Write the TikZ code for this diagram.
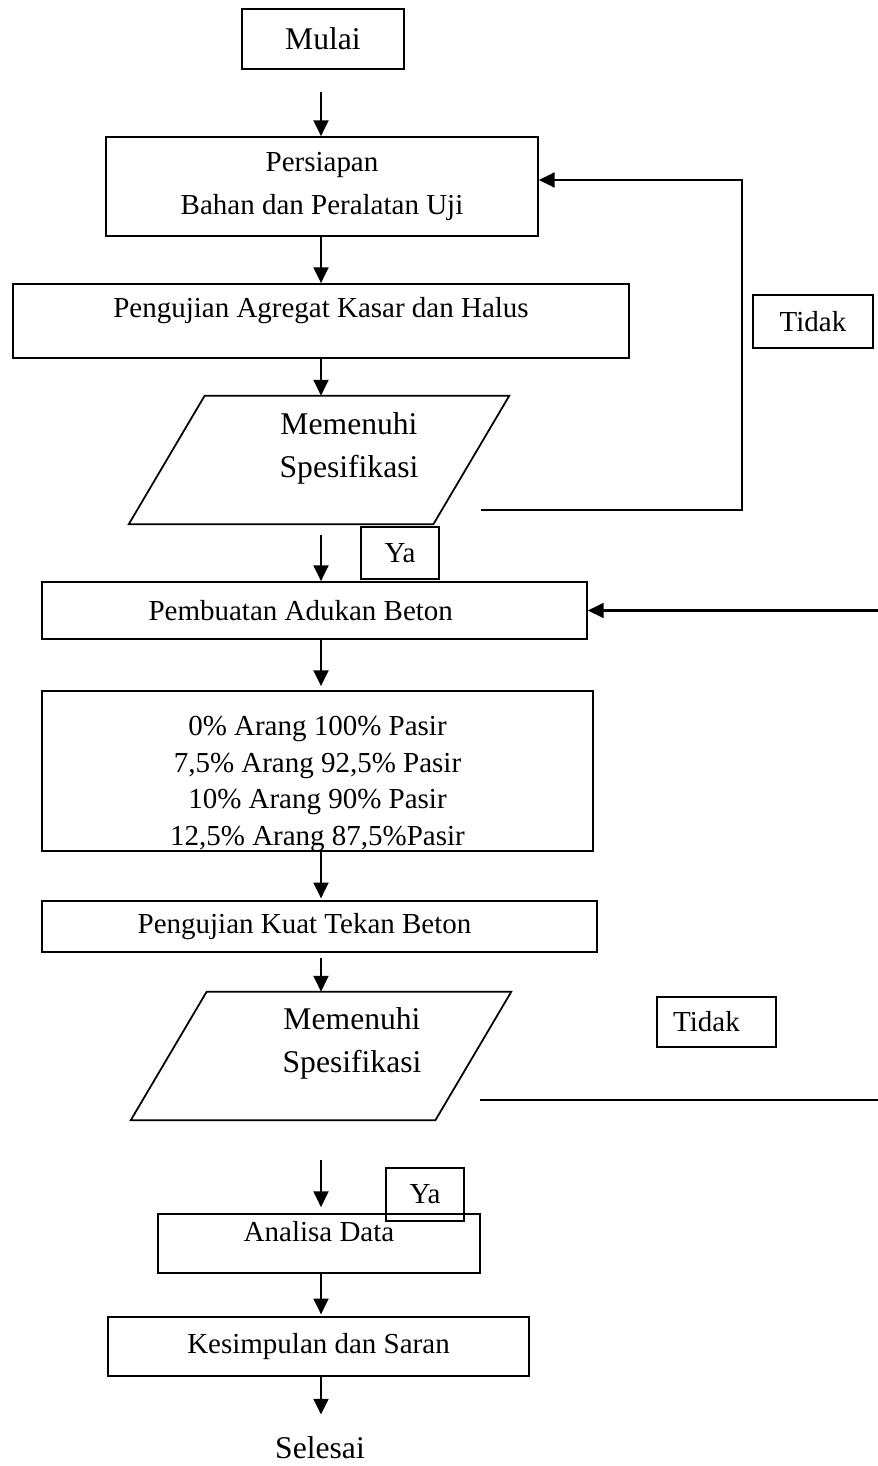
\documentclass[tikz,border=0pt]{standalone}
\usepackage{fontspec}
\setmainfont{Liberation Serif}
\usetikzlibrary{arrows.meta}

\begin{document}
\begin{tikzpicture}[x=0.02cm, y=-0.02cm,
    kotak/.style={draw, line width=1pt, inner sep=2pt, align=center, font=\fontsize{16.5}{20}\selectfont},
    jajar/.style={minimum width=6.08cm, minimum height=2.56cm, inner sep=0pt},
    teks/.style={align=center, inner sep=0pt, font=\fontsize{18}{24.5}\selectfont},
    panah/.style={line width=1.2pt, -{Triangle[length=9pt, width=8.5pt]}}]

    \useasboundingbox (0,0) rectangle (878,1466);
    \clip (0,0) rectangle (878,1466);

    \node (mulai) [kotak, minimum width=3.24cm, minimum height=1.2cm, font=\fontsize{18}{22}\selectfont] at (323,39) {Mulai};
    \node (persiapan) [kotak, minimum width=8.64cm, minimum height=1.98cm] at (322,186.5) {Persiapan\\[4.5pt]Bahan dan Peralatan Uji};
    \node (agregat) [kotak, minimum width=12.32cm, minimum height=1.48cm] at (321,321) {Pengujian Agregat Kasar dan Halus\\[-10pt]\strut};
    \node (tidaka) [kotak, minimum width=2.4cm, minimum height=1.06cm] at (813,321.5) {Tidak};
    \node (cek1) [jajar] at (319,460) {};
    \node (cek1teks) [teks] at (349,448.5) {Memenuhi\\Spesifikasi};
    \node (ya1) [kotak, minimum width=1.56cm, minimum height=1.04cm] at (400,553) {Ya};
    \node (pembuatan) [kotak, minimum width=10.9cm, minimum height=1.14cm] at (314.5,610.5) {Pembuatan Adukan Beton\hspace*{0.55cm}};
    \node (campuran) [kotak, minimum width=11.02cm, minimum height=3.2cm] at (317.5,771) {};
    \node (campuranteks) [teks, font=\fontsize{16.5}{21}\selectfont] at (317.5,784) {0\% Arang 100\% Pasir\\7,5\% Arang 92,5\% Pasir\\10\% Arang 90\% Pasir\\12,5\% Arang 87,5\%Pasir};
    \node (kuat) [kotak, minimum width=11.1cm, minimum height=1.02cm] at (319.5,926.5) {Pengujian Kuat Tekan Beton\hspace*{0.6cm}};
    \node (cek2) [jajar] at (321,1056) {};
    \node (cek2teks) [teks] at (352,1043.5) {Memenuhi\\Spesifikasi};
    \node (tidakb) [kotak, minimum width=2.38cm, minimum height=1cm] at (716.5,1022) {Tidak\hspace*{0.4cm}};
    \node (analisa) [kotak, minimum width=6.44cm, minimum height=1.18cm] at (319,1243.5) {Analisa Data\\[-12pt]\strut};
    \node (ya2) [kotak, minimum width=1.56cm, minimum height=1.06cm] at (425,1194.5) {Ya};
    \node (kesimpulan) [kotak, minimum width=8.42cm, minimum height=1.18cm] at (318.5,1346.5) {Kesimpulan dan Saran};
    \node (selesai) [teks] at (320,1448) {Selesai};

    \foreach \c in {cek1,cek2}
        \draw[line width=1pt] ([xshift=0.76cm]\c.north west) -- ([xshift=0.76cm]\c.north east) -- ([xshift=-0.76cm]\c.south east) -- ([xshift=-0.76cm]\c.south west) -- cycle;

    \coordinate (sumbu) at (321,0);
    \foreach \a/\b/\s/\t in {mulai/persiapan/12.5pt/0pt, persiapan/agregat/0pt/0pt, agregat/cek1/0pt/0pt, cek1/pembuatan/6.3pt/0pt, pembuatan/campuran/0pt/2.3pt, campuran/kuat/0pt/1pt, kuat/cek2/2.8pt/0pt, cek2/analisa/22.8pt/3.4pt, analisa/kesimpulan/0pt/1pt, kesimpulan/selesai/0pt/12.5pt}
        \draw[panah, shorten <=\s, shorten >=\t] (\a.south -| sumbu) -- (\b.north -| sumbu);

    \coordinate (ujung1) at (481,510);
    \coordinate (sudut1) at (742,510);
    \draw[panah] (ujung1) -- (sudut1) |- ([yshift=3.7pt]persiapan.east);
    \coordinate (ujung2) at (480,1100);
    \coordinate (sudut2) at (900,1100);
    \draw[panah] (ujung2) -- (sudut2) |- (pembuatan.east);

\end{tikzpicture}
\end{document}
